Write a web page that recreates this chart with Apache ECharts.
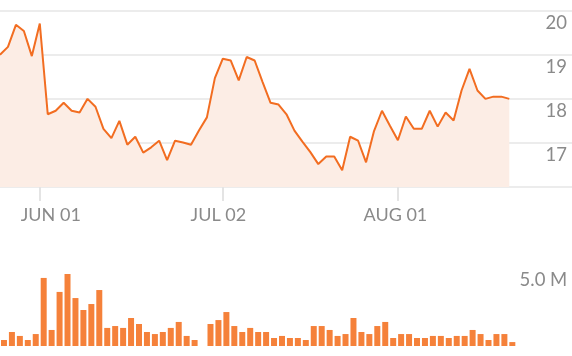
<!DOCTYPE html>
<html>
<head>
<meta charset="utf-8">
<script src="https://cdn.jsdelivr.net/npm/echarts@6/dist/echarts.min.js"></script>
<style>
html,body{margin:0;padding:0;background:#fff;}
#chart{width:572px;height:356px;}
</style>
</head>
<body>
<div id="chart"></div>
<script>
var categories = [
  'MAY 25','MAY 26','MAY 27','MAY 28','MAY 29',
  'JUN 01','JUN 02','JUN 03','JUN 04','JUN 05',
  'JUN 08','JUN 09','JUN 10','JUN 11','JUN 12',
  'JUN 15','JUN 16','JUN 17','JUN 18','JUN 19',
  'JUN 22','JUN 23','JUN 24','JUN 25','JUN 26',
  'JUN 29','JUN 30','JUL 01','JUL 02','JUL 03',
  'JUL 06','JUL 07','JUL 08','JUL 09','JUL 10',
  'JUL 13','JUL 14','JUL 15','JUL 16','JUL 17',
  'JUL 20','JUL 21','JUL 22','JUL 23','JUL 24',
  'JUL 27','JUL 28','JUL 29','JUL 30','JUL 31',
  'AUG 01','AUG 03','AUG 04','AUG 05','AUG 06',
  'AUG 07','AUG 10','AUG 11','AUG 12','AUG 13',
  'AUG 14','AUG 17','AUG 18','AUG 19','AUG 20'
];
var tickLabels = ['JUN 01','JUL 02','AUG 01'];
var prices = [
  19.00,19.18,19.68,19.54,18.97,19.71,17.65,17.73,17.91,17.73,
  17.69,18.00,17.82,17.32,17.11,17.50,16.96,17.14,16.78,16.90,
  17.05,16.61,17.05,17.01,16.96,17.28,17.58,18.47,18.91,18.87,
  18.42,18.95,18.87,18.38,17.91,17.87,17.65,17.28,17.03,16.79,
  16.52,16.69,16.69,16.38,17.14,17.05,16.56,17.27,17.73,17.39,
  17.06,17.60,17.32,17.32,17.73,17.37,17.69,17.51,18.19,18.68,
  18.19,18.00,18.05,18.05,18.00
];
// volume in millions
var volumes = [
  0.38,0.89,0.64,0.38,0.76,4.33,1.02,3.44,4.58,3.05,
  2.29,2.67,3.56,1.15,1.27,1.15,1.78,1.40,0.89,0.76,
  0.89,1.15,1.53,0.64,0.38,null,1.40,1.65,2.16,1.27,
  0.89,1.15,0.89,0.89,0.51,0.64,0.51,0.51,0.38,1.27,
  1.27,1.02,0.64,0.76,1.78,0.89,0.76,1.27,1.53,0.51,
  0.76,0.76,0.51,0.51,0.64,0.64,0.51,0.64,0.64,1.02,
  0.76,0.38,0.76,0.76,0.25
];
var priceTicks = {min:16, max:20, interval:1};
var volTicks = {min:0, max:5, interval:5};

var FONT = 'Lato, "Open Sans", sans-serif';
var GREY = '#8a8a8a';
var YFS = 18.5, XFS = 18;
var showTick = function (idx, val) { return tickLabels.indexOf(val) >= 0; };
var labelShift = {'JUN 01':'a','JUL 02':'b','AUG 01':'c'};

var chart = echarts.init(document.getElementById('chart'), null, {renderer:'canvas'});
chart.setOption({
  animation:false,
  grid:[
    {left:0, right:0, top:10.7, height:176.3},
    {left:0, right:62.7, top:10.7, height:176.3},
    {left:-1, right:55.7, top:267.4, height:78.6}
  ],
  xAxis:[
    {gridIndex:0, type:'value', min:0, max:1, show:false},
    {gridIndex:1, type:'category', data:categories, boundaryGap:false,
      axisLine:{show:false},
      axisTick:{show:true, interval:showTick, length:14, lineStyle:{color:'#e4e4e4', width:2}},
      axisLabel:{interval:showTick, margin:19, color:GREY, fontFamily:FONT, fontSize:XFS,
        formatter:function (v) { return '{' + labelShift[v] + '|' + v + '}'; },
        rich:{
          a:{padding:[0,0,0,22], color:GREY, fontFamily:FONT, fontSize:XFS},
          b:{padding:[0,9,0,0], color:GREY, fontFamily:FONT, fontSize:XFS},
          c:{padding:[0,5,0,0], color:GREY, fontFamily:FONT, fontSize:XFS}
        }
      },
      splitLine:{show:false}
    },
    {gridIndex:2, type:'category', data:categories, show:false}
  ],
  yAxis:[
    {gridIndex:0, type:'value', min:priceTicks.min, max:priceTicks.max, interval:priceTicks.interval,
      position:'right', axisLine:{show:false}, axisTick:{show:false},
      splitLine:{show:true, lineStyle:{color:'#e6e6e6', width:1.5}},
      axisLabel:{inside:true, margin:5, showMinLabel:false, verticalAlign:'top', padding:[3,0,0,0],
        color:GREY, fontFamily:FONT, fontSize:YFS}
    },
    {gridIndex:1, type:'value', min:priceTicks.min, max:priceTicks.max, show:false},
    {gridIndex:2, type:'value', min:volTicks.min, max:volTicks.max, interval:volTicks.interval,
      position:'right', axisLine:{show:false}, axisTick:{show:false}, splitLine:{show:false},
      axisLabel:{showMinLabel:false, align:'right', margin:51, verticalAlign:'top', padding:[3,0,0,0],
        color:GREY, fontFamily:FONT, fontSize:YFS,
        formatter:function (v) { return v.toFixed(1) + ' M'; }}
    }
  ],
  series:[
    {type:'line', xAxisIndex:1, yAxisIndex:1, data:prices, symbol:'none',
      lineStyle:{color:'#f26d21', width:2}, areaStyle:{color:'#fcede5', opacity:1, origin:'start'}},
    {type:'bar', xAxisIndex:2, yAxisIndex:2, data:volumes, barWidth:6,
      itemStyle:{color:'#f5813a'}}
  ]
});
</script>
</body>
</html>
